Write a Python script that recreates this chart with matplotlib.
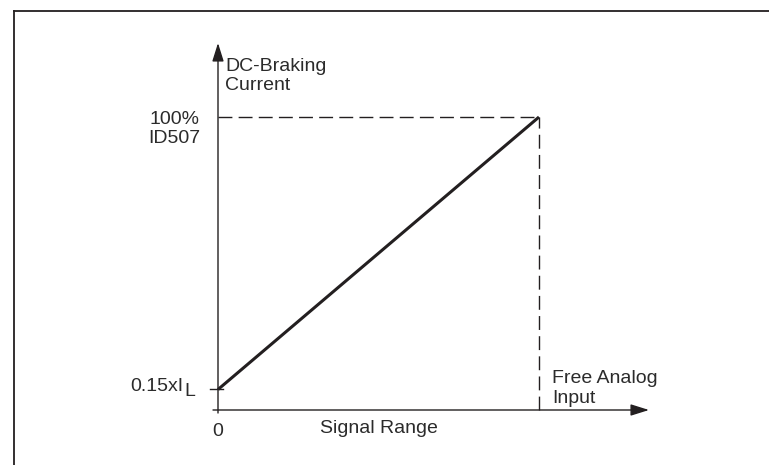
import matplotlib
matplotlib.use("Agg")
import matplotlib.pyplot as plt
from matplotlib.lines import Line2D

# DC-braking current vs. free analog input signal
signal = [0, 100]          # % of signal range
current = [7, 100]         # % of ID507 (start level = 0.15 x IL)
axis_labels = ["DC-Braking\nCurrent", "Signal Range", "Free Analog\nInput"]
level_labels = ["100%\nID507", "0.15xI", "L", "0"]

plt.rcParams['font.family'] = ['Liberation Sans', 'DejaVu Sans']
plt.rcParams['lines.scale_dashes'] = False
ink = '#231f20'
txt = '#2b2b2b'
fs = 14

W, H = 769, 465
fig = plt.figure(figsize=(W / 100, H / 100), dpi=100)
ax = fig.add_axes([0, 0, 1, 1])
ax.axis('off')

# pixel anchors of the diagram frame (layout only)
x0_px, x1_px, y0_px, y1_px = 218, 539, 410, 117
sx = (x1_px - x0_px) / (signal[1] - signal[0])
sy = (y0_px - y1_px) / (current[1] - 0)
ax.set_xlim(-x0_px / sx, (W - x0_px) / sx)
ax.set_ylim(-(H - y0_px) / sy, y0_px / sy)

# outer frame (top and left only)
fig.add_artist(Line2D([14 / W, 1], [1 - 11 / H, 1 - 11 / H], color=ink, lw=1.3))
fig.add_artist(Line2D([14 / W, 14 / W], [0, 1 - 11 / H], color=ink, lw=1.3))

arrow = dict(arrowstyle='-|>,head_length=0.7,head_width=0.22', color=ink,
             lw=1.0, shrinkA=0, shrinkB=0, mutation_scale=16)
y_top = (y0_px - 43) / sy
# x axis
ax.annotate('', xy=((649 - x0_px) / sx, 0), xytext=(-5 / sx, 0), arrowprops=arrow)
# y axis
ax.annotate('', xy=(0, y_top), xytext=(0, -3 / sy), arrowprops=arrow)

# tick at start level
ax.plot([-8 / sx, 5 / sx], [current[0], current[0]], color=ink, lw=1.0)

# dashed guides
ax.plot([signal[0], signal[1]], [current[1], current[1]], color=ink, lw=1.0,
        dashes=(10, 4.5))
ax.plot([signal[1], signal[1]], [0, current[1]], color=ink, lw=1.0, dashes=(10, 4.5))

# characteristic
ax.plot(signal, current, color=ink, lw=2.2, solid_capstyle='butt')

# texts (va='baseline' -> baseline of the last line)
def label(s, xy, off, ha, ls=1.2):
    ax.annotate(s, xy=xy, xytext=off, textcoords='offset points', ha=ha,
                va='baseline', fontsize=fs, color=txt, linespacing=ls)

label(axis_labels[0], (0, y_top), (5, -33.8), 'left', 1.13)
label(level_labels[0], (0, current[1]), (-13, -18.7), 'right', 1.18)
label(level_labels[1], (0, current[0]), (-25.2, -1), 'right')
label(level_labels[2], (0, current[0]), (-24.3, -4.7), 'left')
label(level_labels[3], (signal[0], 0), (0, -18.7), 'center')
label(axis_labels[1], ((signal[0] + signal[1]) / 2, 0), (0, -16.6), 'center')
label(axis_labels[2], (signal[1], 0), (9.4, 5), 'left', 1.24)

fig.savefig('out.png', dpi=100)
